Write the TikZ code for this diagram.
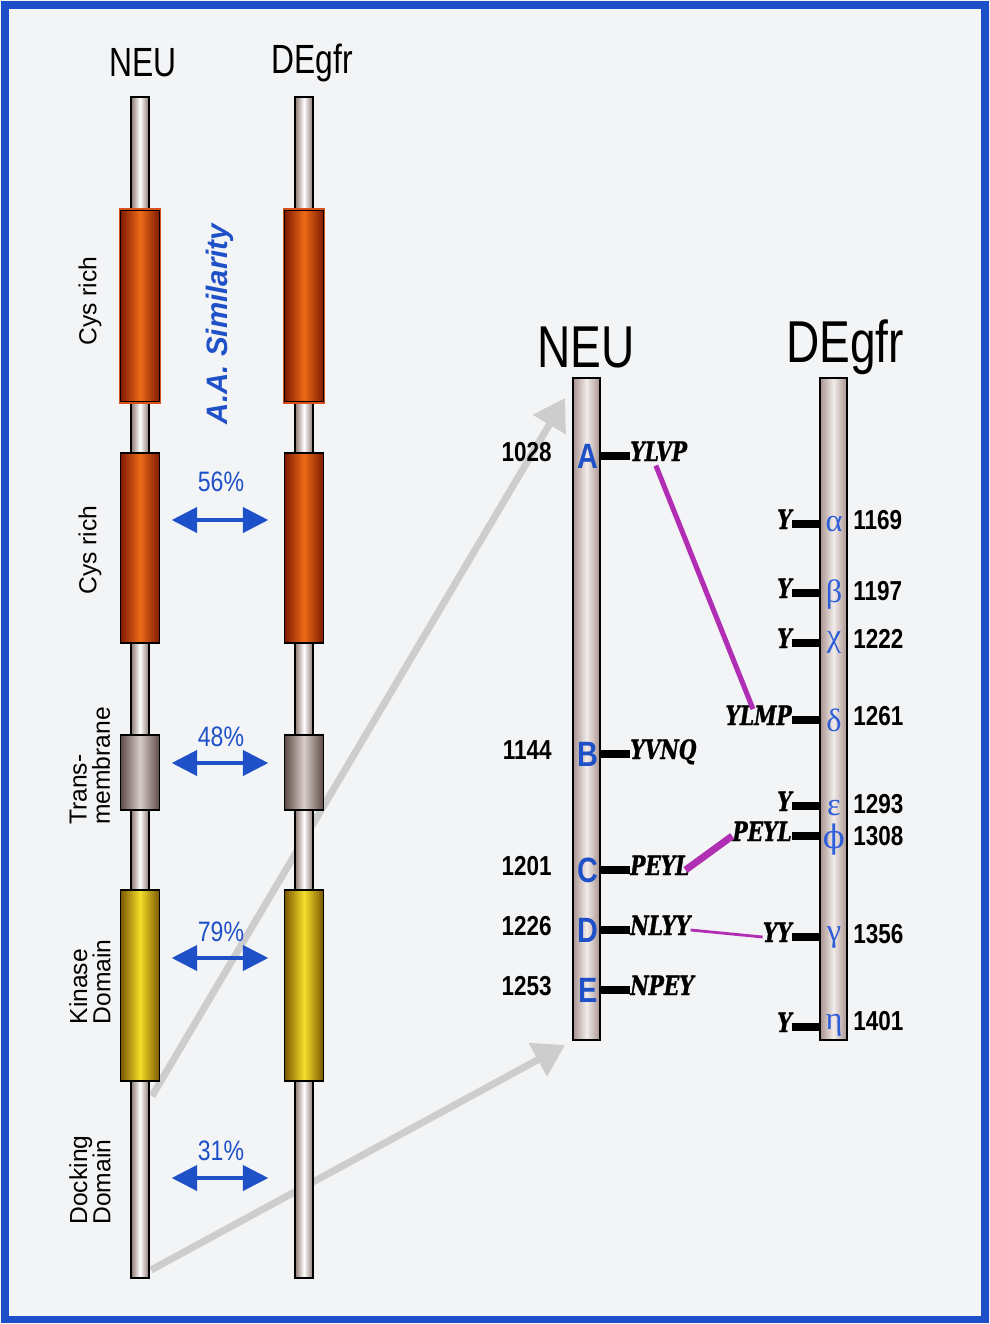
\documentclass[tikz,border=0pt]{standalone}
\usepackage{fontspec}
\setmainfont{Liberation Serif}
\setsansfont{Liberation Sans}
\newfontfamily\condfont[FakeStretch=0.78]{Liberation Sans}
\newfontfamily\narrowfont[FakeStretch=0.82]{Liberation Sans}
\newfontfamily\seqfont[FakeStretch=0.84, FakeBold=1.2]{DejaVu Serif Condensed Bold Italic}
\newfontfamily\grkfont{Liberation Serif}
\newfontfamily\phifont{DejaVu Serif}
\usepackage{tikz}
\usetikzlibrary{positioning, arrows.meta, calc}
\definecolor{bgcol}{HTML}{F3F4F6}
\definecolor{framblue}{HTML}{1C4FC8}
\definecolor{txtblue}{HTML}{1E50C8}
\definecolor{grkblue}{HTML}{2F5FD8}
\definecolor{rodbr}{HTML}{8C7670}
\definecolor{cysdk}{HTML}{7E1A02}
\definecolor{cysor}{HTML}{EE6A18}
\definecolor{cysline}{HTML}{D8501C}
\definecolor{tmdk}{HTML}{5E4A46}
\definecolor{tmlt}{HTML}{D9CDC9}
\definecolor{kindk}{HTML}{7A5800}
\definecolor{kinlt}{HTML}{F6DE2A}
\definecolor{bardk}{HTML}{A8928E}
\definecolor{barlt}{HTML}{F2ECEA}
\definecolor{grayarr}{HTML}{CDCDCD}
\definecolor{linkmag}{HTML}{B02EB4}

\begin{document}
\begin{tikzpicture}[x=0.025cm, y=-0.025cm,
  rod/.style={draw, line width=1.1pt, inner sep=0pt, minimum width=0.45cm, minimum height=29.525cm,
    left color=rodbr, right color=rodbr, middle color=white},
  dom/.style={draw, line width=1.1pt, inner sep=0pt, minimum width=0.975cm},
  cys/.style={dom, left color=cysdk, right color=cysdk, middle color=cysor},
  tm/.style={dom, left color=tmdk, right color=tmdk, middle color=tmlt},
  kin/.style={dom, left color=kindk, right color=kindk, middle color=kinlt},
  bar/.style={draw, line width=1.1pt, inner sep=0pt, minimum width=0.675cm, minimum height=16.55cm,
    left color=bardk, right color=bardk, middle color=barlt},
  ttl/.style={anchor=base, inner sep=0pt, font=\condfont\fontsize{29}{29}\selectfont},
  bigttl/.style={anchor=base, inner sep=0pt, font=\condfont\fontsize{42}{42}\selectfont},
  dname/.style={rotate=90, align=left, font=\sffamily\fontsize{17.5}{16.5}\selectfont},
  pct/.style={text=txtblue, font=\narrowfont\fontsize{20}{20}\selectfont},
  sim/.style={draw=txtblue, line width=2.2pt, {Triangle[length=18pt,width=18pt]}-{Triangle[length=18pt,width=18pt]}},
  gry/.style={draw=grayarr, line width=5pt, -{Triangle[length=22pt,width=26pt]}},
  num/.style={inner sep=0pt, text height=0.72em, text depth=0pt, font=\narrowfont\bfseries\fontsize{19.5}{19.5}\selectfont},
  site/.style={text=txtblue, inner sep=0pt, font=\narrowfont\bfseries\fontsize{25}{25}\selectfont},
  grk/.style={text=grkblue, inner sep=0pt, font=\grkfont\fontsize{23}{23}\selectfont},
  seq/.style={inner sep=0pt, text height=0.72em, text depth=0pt, font=\seqfont\fontsize{19}{19}\selectfont},
  tick/.style={line width=5pt},
  lnk/.style={draw=linkmag}]

\useasboundingbox (0,0) rectangle (990,1324);
\fill[bgcol] (0,0) rectangle (990,1324);
\draw[framblue, line width=5pt] (5,5) rectangle (985,1319);

% zoom arrows
\coordinate (kinEnd) at (152,1096);
\coordinate (neuTop) at (565,398);
\coordinate (dockEnd) at (151,1270);
\coordinate (neuBot) at (565,1045);
\draw[gry] (kinEnd) -- (neuTop);
\draw[gry] (dockEnd) -- (neuBot);

% full-length receptors
\node[ttl] (tn) at (143,76) {NEU};
\node[ttl] (td) at (312,73) {DEgfr};
\foreach \nm/\cx in {n/140, d/304}{
  \node[rod] (rod\nm) at (\cx,687.5) {};
  \node[cys, minimum height=4.8cm] (cysa\nm) at (\cx,306) {};
  \node[cys, minimum height=4.75cm] (cysb\nm) at (\cx,548) {};
  \node[tm, minimum height=1.875cm] (tm\nm) at (\cx,772.5) {};
  \node[kin, minimum height=4.775cm] (kin\nm) at (\cx,985.5) {};
}
\draw[cysline, line width=1.1pt] (cysan.south west) rectangle (cysan.north east);
\draw[cysline, line width=1.1pt] (cysad.south west) rectangle (cysad.north east);

\node[dname] (lcysa) at (90,301) {Cys rich};
\node[dname] (lcysb) at (90,550) {Cys rich};
\node[dname] (ltm) at (90,766) {Trans-\\membrane};
\node[dname] (lkin) at (90,982) {Kinase\\Domain};
\node[dname] (ldock) at (90,1180) {Docking\\Domain};

\node[rotate=90, text=txtblue, font=\sffamily\bfseries\itshape\fontsize{21}{21}\selectfont] (aasim) at (220,324) {A.A. Similarity};

\foreach \pc/\py/\yy in {56/482/520, 48/737/763, 79/932/958, 31/1151/1178}{
  \node[pct] (p\pc) at (221,\py) {\pc\%};
  \path (rodn.east |- 0,\yy) coordinate (sl\pc) (rodd.west |- 0,\yy) coordinate (sr\pc);
  \draw[sim] ([xshift=0.55cm]sl\pc) -- ([xshift=-0.65cm]sr\pc);
}

% C-terminal close-up
\node[bigttl] (tn2) at (586,367) {NEU};
\node[bigttl] (td2) at (845,362) {DEgfr};
\node[bar] (nbar) at (586.5,709) {};
\node[bar] (dbar) at (833.5,709) {};

\foreach \lt/\num/\sq/\yy in {A/1028/YLVP/456, B/1144/YVNQ/754, C/1201/PEYL/870, D/1226/NLYY/930, E/1253/NPEY/990}{
  \node[site] (l\lt) at (588,\yy) {\lt};
  \node[num, anchor=east] (n\lt) at (552,\yy) {\num};
  \node[seq, anchor=west] (s\lt) at (630,\yy) {\sq};
  \draw[tick] (s\lt.west) -- (s\lt.west -| nbar.east);
}

\foreach \gk/\num/\sq/\ty/\gy [count=\i] in {α/1169/Y/524/524, β/1197/Y/593/595, χ/1222/Y/643/643,
    δ/1261/YLMP/720/720, ε/1293/Y/806/808, {\phifont ϕ}/1308/PEYL/836/840, γ/1356/YY/937/938, η/1401/Y/1027/1025}{
  \node[grk] (g\i) at (834,\gy) {\gk};
  \node[num, anchor=west] (m\i) at (853,\gy) {\num};
  \node[seq, anchor=east] (y\i) at (792,\ty) {\sq};
  \draw[tick] (y\i.east) -- (y\i.east -| dbar.west);
}

% matching motifs
\draw[lnk, line width=3.6pt] ([xshift=-2pt, yshift=-3pt]sA.south) -- ([xshift=-4pt, yshift=4pt]y4.north);
\draw[lnk, line width=5pt] ([xshift=-3pt]sC.east) -- (y6.west);
\draw[lnk, line width=2pt] (sD.east) -- (y7.west);

\end{tikzpicture}
\end{document}
